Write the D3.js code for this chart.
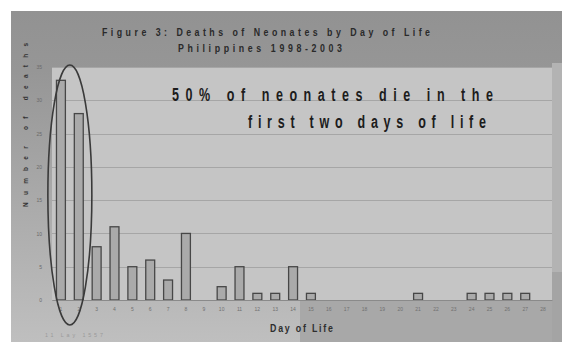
<!DOCTYPE html>
<html>
<head>
<meta charset="utf-8">
<script src="https://cdn.jsdelivr.net/npm/d3@7"></script>
<style>
  html, body { margin: 0; padding: 0; background: #fff; }
  svg { display: block; font-family: "Liberation Sans", Arial, sans-serif; }
</style>
</head>
<body>
<svg id="chart" width="562" height="342"></svg>
<script>
// Neonatal deaths by day of life, Philippines 1998-2003
const days = d3.range(1, 29);
const deaths = [33, 28, 8, 11, 5, 6, 3, 10, 0, 2, 5, 1, 1, 5, 1, 0, 0, 0, 0, 0, 1, 0, 0, 1, 1, 1, 1, 0];
const yTicks = [0, 5, 10, 15, 20, 25, 30, 35];
const titleLines = ["Figure 3: Deaths of Neonates by Day of Life", "Philippines 1998-2003"];
const noteLines = ["50% of neonates die in the", "first two days of life"];
const xTitle = "Day of Life";
const yTitle = "Number of deaths";
const sourceNote = "11 Lay 1557";

const svg = d3.select("#chart");
const W = 562, H = 342;
const plot = { left: 52, right: 552, top: 67, bottom: 300 };

const defs = svg.append("defs");
const bgGrad = defs.append("linearGradient")
  .attr("id", "frameGrad").attr("x1", 0).attr("y1", 0).attr("x2", 0).attr("y2", 1);
bgGrad.append("stop").attr("offset", "0%").attr("stop-color", "#929292");
bgGrad.append("stop").attr("offset", "18%").attr("stop-color", "#969696");
bgGrad.append("stop").attr("offset", "100%").attr("stop-color", "#bfbfbf");

// slide frame
svg.append("rect").attr("x", 11).attr("y", 11).attr("width", W - 11).attr("height", H - 11)
  .attr("fill", "url(#frameGrad)");
// darker panels at the lower right of the slide
svg.append("rect").attr("x", 300).attr("y", plot.bottom).attr("width", W - 300).attr("height", H - plot.bottom)
  .attr("fill", "#a8a8a8");
svg.append("rect").attr("x", plot.right).attr("y", plot.top - 4).attr("width", W - plot.right).attr("height", 272 - plot.top + 4)
  .attr("fill", "#b3b3b3");
svg.append("rect").attr("x", plot.right).attr("y", 272).attr("width", W - plot.right).attr("height", H - 272)
  .attr("fill", "#a4a4a4");

// scales
const x = d3.scaleBand().domain(days).range([plot.left, plot.right]).paddingInner(0.5).paddingOuter(0.25);
const y = d3.scaleLinear().domain([0, 35]).range([plot.bottom, plot.top]);

// plot area
svg.append("rect").attr("x", plot.left).attr("y", plot.top)
  .attr("width", plot.right - plot.left).attr("height", plot.bottom - plot.top)
  .attr("fill", "#c5c5c5");

// gridlines
svg.append("g").selectAll("line").data(yTicks).join("line")
  .attr("x1", plot.left).attr("x2", plot.right)
  .attr("y1", d => Math.round(y(d)) + 0.5).attr("y2", d => Math.round(y(d)) + 0.5)
  .attr("stroke", "#a6a6a6").attr("stroke-width", 1.2);

// bars
svg.append("g").selectAll("rect").data(days).join("rect")
  .attr("x", d => x(d))
  .attr("y", (d, i) => y(deaths[i]))
  .attr("width", x.bandwidth())
  .attr("height", (d, i) => y(0) - y(deaths[i]))
  .attr("fill", "#aaaaaa")
  .attr("stroke", "#474747")
  .attr("stroke-width", 1.3);

// y axis labels
const yAxis = d3.axisLeft(y).tickValues(yTicks).tickSize(0).tickPadding(6);
const gy = svg.append("g").attr("transform", `translate(${plot.left - 4},0)`).call(yAxis);
gy.select(".domain").remove();
gy.selectAll("text").attr("font-size", 5).attr("fill", "#6a6a6a").attr("font-family", "Liberation Sans, Arial, sans-serif");

// x axis
const xAxis = d3.axisBottom(x).tickSize(0).tickPadding(7);
const gx = svg.append("g").attr("transform", `translate(0,${plot.bottom})`).call(xAxis);
gx.select(".domain").attr("stroke", "#8a8a8a").attr("stroke-width", 1);
gx.selectAll("text").attr("font-size", 5).attr("fill", "#707070").attr("font-family", "Liberation Sans, Arial, sans-serif");

// spaced, narrow text helper
function spacedText(str, x0, yb, width, size, sx, color, weight) {
  svg.append("text")
    .attr("transform", `translate(${x0},${yb}) scale(${sx},1)`)
    .attr("font-size", size)
    .attr("font-weight", weight || "bold")
    .attr("fill", color)
    .attr("textLength", width / sx)
    .attr("lengthAdjust", "spacing")
    .text(str);
}

// title
spacedText(titleLines[0], 102, 36, 328, 11, 0.8, "#2a2a2a");
spacedText(titleLines[1], 178, 52, 164, 11, 0.8, "#2a2a2a");

// annotation
spacedText(noteLines[0], 172, 101, 321, 19, 0.66, "#1c1c1c");
spacedText(noteLines[1], 248, 128, 238, 19, 0.66, "#1c1c1c");

// x axis title
spacedText(xTitle, 270, 332, 63, 11, 0.8, "#2e2e2e");

// y axis title (rotated)
svg.append("text")
  .attr("transform", `translate(28,207) rotate(-90) scale(0.8,1)`)
  .attr("font-size", 8)
  .attr("font-weight", "bold")
  .attr("fill", "#333")
  .attr("textLength", 164 / 0.8)
  .attr("lengthAdjust", "spacing")
  .text(yTitle);

// faint note at bottom left
spacedText(sourceNote, 45, 337, 58, 6, 0.9, "#9a9a9a", "normal");

// ellipse ringing the first two days
const cx = (x(1) + x(2) + x.bandwidth()) / 2;
svg.append("ellipse")
  .attr("cx", cx).attr("cy", (y(35) - 2 + plot.bottom + 25) / 2)
  .attr("rx", 22).attr("ry", (plot.bottom + 25 - (y(35) - 2)) / 2)
  .attr("fill", "none").attr("stroke", "#3a3a3a").attr("stroke-width", 1.6);
</script>
</body>
</html>
